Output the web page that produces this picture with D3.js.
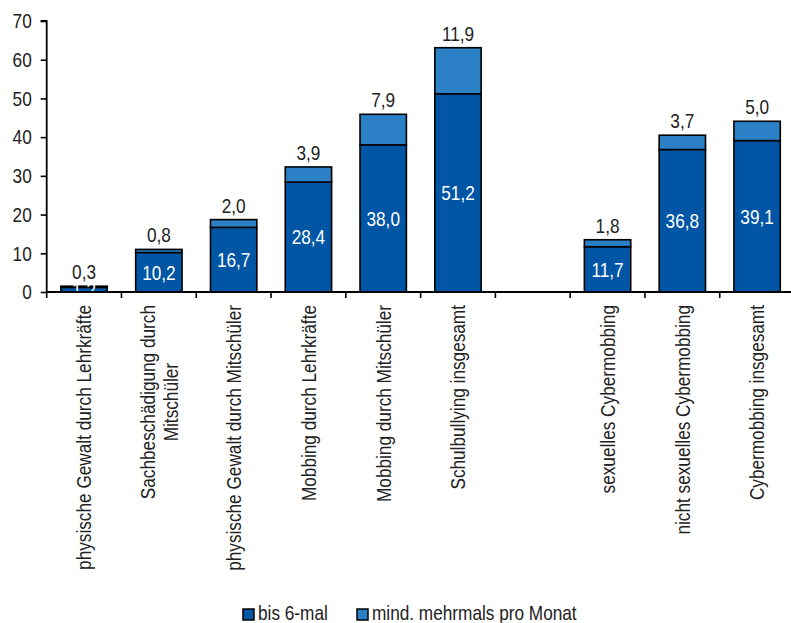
<!DOCTYPE html>
<html>
<head>
<meta charset="utf-8">
<script src="https://cdn.jsdelivr.net/npm/d3@7"></script>
<style>
  html, body { margin: 0; padding: 0; background: #fff; }
  svg { display: block; font-family: "Liberation Sans", Arial, sans-serif; }
</style>
</head>
<body>
<svg id="chart" width="791" height="623"></svg>
<script>
// Categories (empty slot separates school bullying from cyberbullying)
const categories = [
  "physische Gewalt durch Lehrkräfte",
  "Sachbeschädigung durch\nMitschüler",
  "physische Gewalt durch Mitschüler",
  "Mobbing durch Lehrkräfte",
  "Mobbing durch Mitschüler",
  "Schulbullying insgesamt",
  "",
  "sexuelles Cybermobbing",
  "nicht sexuelles Cybermobbing",
  "Cybermobbing insgesamt"
];
const bis6mal = [1.2, 10.2, 16.7, 28.4, 38.0, 51.2, null, 11.7, 36.8, 39.1];
const mehrmals = [0.3, 0.8, 2.0, 3.9, 7.9, 11.9, null, 1.8, 3.7, 5.0];
const seriesNames = ["bis 6-mal", "mind. mehrmals pro Monat"];
const yTicks = [0, 10, 20, 30, 40, 50, 60, 70];

const colors = ["#0055a4", "#2b80c6"];
const fontSize = 21;
const squeeze = 0.82;   // condensed letterforms
const fmt = v => v.toFixed(1).replace(".", ",");

const svg = d3.select("#chart");
const margin = { left: 46.7, top: 21, bottom: 292 };
const plotRight = 794.5;

const keys = categories.map((c, i) => "k" + i);
const x = d3.scaleBand().domain(keys).range([margin.left, plotRight]).paddingInner(0).paddingOuter(0);
const y = d3.scaleLinear().domain([0, 70]).range([margin.bottom, margin.top]);
const barW = x.bandwidth() * 0.62;

const rows = categories.map((c, i) => ({ key: keys[i], label: c, a: bis6mal[i], b: mehrmals[i] }))
  .filter(d => d.a != null);

// Condensed text placed at (px, py)
function condensed(sel, px, py) {
  return sel.attr("x", 0).attr("y", 0)
    .attr("transform", (d, i, n) => `translate(${px(d)},${py(d)}) scale(${squeeze},1)`);
}

// Bars: lower segment
const g = svg.append("g");
g.selectAll("rect.a").data(rows).join("rect")
  .attr("class", "a")
  .attr("x", d => x(d.key) + (x.bandwidth() - barW) / 2)
  .attr("width", barW)
  .attr("y", d => y(d.a))
  .attr("height", d => y(0) - y(d.a))
  .attr("fill", colors[0])
  .attr("stroke", "#000").attr("stroke-width", 1.6);

// Upper segment
g.selectAll("rect.b").data(rows).join("rect")
  .attr("class", "b")
  .attr("x", d => x(d.key) + (x.bandwidth() - barW) / 2)
  .attr("width", barW)
  .attr("y", d => y(d.a + d.b))
  .attr("height", d => y(d.a) - y(d.a + d.b))
  .attr("fill", colors[1])
  .attr("stroke", "#000").attr("stroke-width", 1.6);

// Value labels inside the lower segment
g.selectAll("text.va").data(rows).join("text")
  .attr("class", "va")
  .call(condensed, d => x(d.key) + x.bandwidth() / 2, d => (y(0) + y(d.a)) / 2)
  .attr("dy", "0.35em")
  .attr("text-anchor", "middle")
  .attr("fill", "#fff")
  .attr("font-size", fontSize)
  .text(d => fmt(d.a));

// Value labels above the bars
g.selectAll("text.vb").data(rows).join("text")
  .attr("class", "vb")
  .call(condensed, d => x(d.key) + x.bandwidth() / 2, d => y(d.a + d.b) - 7)
  .attr("text-anchor", "middle")
  .attr("fill", "#222")
  .attr("font-size", fontSize)
  .text(d => fmt(d.b));

// Y axis
const yAxis = d3.axisLeft(y).tickValues(yTicks).tickSize(6).tickPadding(9).tickFormat(d3.format("d"));
const ya = svg.append("g").attr("transform", `translate(${margin.left},0)`).call(yAxis);
ya.select(".domain").attr("stroke", "#000").attr("stroke-width", 1.8).attr("d", `M-6,${y(70)}H0V${y(0)}`);
ya.selectAll(".tick line").attr("stroke", "#000").attr("stroke-width", 1.6);
ya.selectAll(".tick text")
  .attr("font-size", fontSize).attr("fill", "#222").attr("font-family", null)
  .attr("x", -15 / squeeze)
  .attr("transform", `scale(${squeeze},1)`);

// X axis: line with ticks at the slot boundaries
const xa = svg.append("g");
xa.append("line")
  .attr("x1", margin.left).attr("x2", 791)
  .attr("y1", y(0)).attr("y2", y(0))
  .attr("stroke", "#000").attr("stroke-width", 1.8);
const bounds = keys.map(k => x(k));
xa.selectAll("line.t").data(bounds).join("line")
  .attr("class", "t")
  .attr("x1", d => d).attr("x2", d => d)
  .attr("y1", y(0)).attr("y2", y(0) + 6)
  .attr("stroke", "#000").attr("stroke-width", 1.6);

// Rotated category labels
const lineH = 23;
const labTop = y(0) + 13;
categories.forEach((c, i) => {
  if (!c) return;
  const lines = c.split("\n");
  const cx = x(keys[i]) + x.bandwidth() / 2;
  const t = xa.append("g").attr("transform", `translate(${cx},${labTop}) rotate(-90) scale(${squeeze},1)`);
  const texts = lines.map((ln, j) => t.append("text")
    .attr("y", (j - (lines.length - 1) / 2) * lineH)
    .attr("dy", "0.35em")
    .attr("font-size", fontSize)
    .attr("fill", "#222")
    .attr("text-anchor", "middle")
    .text(ln));
  const maxLen = d3.max(texts, tx => tx.node().getComputedTextLength());
  texts.forEach(tx => tx.attr("x", -maxLen / 2));
});

// Legend
const legend = svg.append("g");
const legX = [243, 357];
seriesNames.forEach((s, i) => {
  legend.append("rect")
    .attr("x", legX[i]).attr("y", 609)
    .attr("width", 11).attr("height", 11)
    .attr("fill", colors[i]).attr("stroke", "#000").attr("stroke-width", 1.5);
  legend.append("text")
    .attr("transform", `translate(${legX[i] + 15},620) scale(${squeeze},1)`)
    .attr("font-size", fontSize).attr("fill", "#222")
    .text(s);
});
</script>
</body>
</html>
